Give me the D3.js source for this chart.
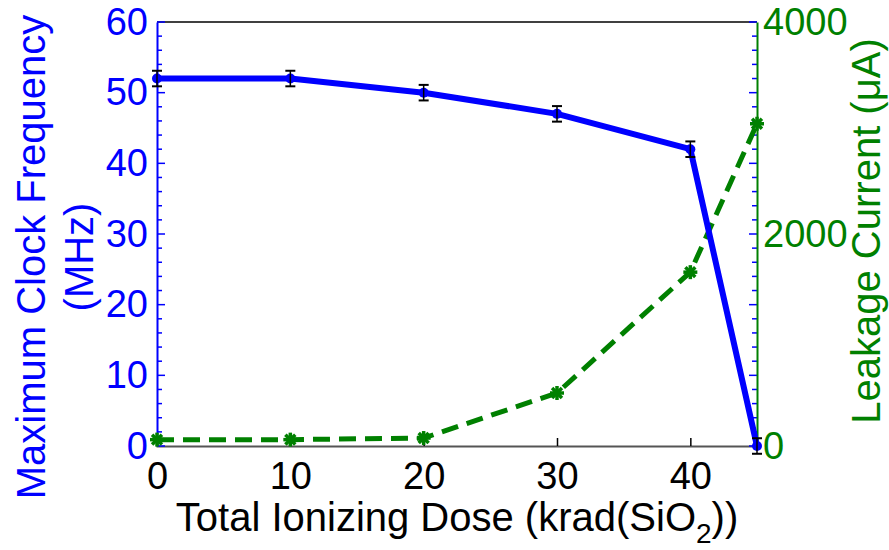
<!DOCTYPE html>
<html>
<head>
<meta charset="utf-8">
<script src="https://cdn.jsdelivr.net/npm/d3@7"></script>
<style>
  body { margin: 0; background: #fff; }
  text { font-family: "Liberation Sans", Arial, sans-serif; }
</style>
</head>
<body>
<svg id="svg" width="889" height="550"></svg>
<script>
// dose in krad(SiO2)
let dose = [0, 10, 20, 30, 40, 45];
// max clock frequency (MHz) and its error
let freq = [52, 52, 50, 47, 42, 0];
let freqErr = [1.1, 1.1, 1.1, 1.1, 1.1, 1.1];
// leakage current (uA)
let leakage = [60, 60, 75, 500, 1640, 3040];

let xTicks = [0, 10, 20, 30, 40];
let yLeftTicks = [0, 10, 20, 30, 40, 50, 60];
let yRightTicks = [0, 2000, 4000];

let blue = "#0000ff", green = "#008000";
let font = "Liberation Sans, Arial, sans-serif";

let svg = d3.select("svg");
let margin = {top: 22, right: 132, bottom: 104, left: 157};
let width = 889 - margin.left - margin.right;
let height = 550 - margin.top - margin.bottom;

let x = d3.scaleLinear().domain([0, 45]).range([0, width]);
let yL = d3.scaleLinear().domain([0, 60]).range([height, 0]);
let yR = d3.scaleLinear().domain([0, 4000]).range([height, 0]);

let g = svg.append("g").attr("transform", "translate(" + margin.left + "," + margin.top + ")");

// top box line
g.append("line").attr("x1", 0).attr("x2", width).attr("y1", 0).attr("y2", 0)
  .attr("stroke", "#000").attr("stroke-width", 1.5);

// bottom axis
let xAxis = g.append("g")
  .attr("transform", "translate(0," + height + ")")
  .call(d3.axisBottom(x).tickValues(xTicks).tickSize(-8).tickPadding(16).tickFormat(d3.format("d")));
xAxis.select(".domain").attr("stroke", "#555").attr("stroke-width", 2);
xAxis.selectAll(".tick line").attr("stroke", "#000").attr("stroke-width", 1.5);
xAxis.selectAll("text").attr("font-size", 38).attr("fill", "#000").attr("font-family", font);

// left axis with minor ticks
let minorL = d3.range(0, 61, 2);
let yAxisL = g.append("g")
  .call(d3.axisLeft(yL).tickValues(yLeftTicks).tickSize(0).tickPadding(9).tickFormat(d3.format("d")));
yAxisL.select(".domain").attr("stroke", blue).attr("stroke-width", 2);
yAxisL.selectAll("text").attr("font-size", 38).attr("fill", blue).attr("font-family", font);
g.selectAll(".minorL").data(minorL).enter().append("line")
  .attr("x1", 0).attr("x2", d => d % 10 == 0 ? 8 : 5)
  .attr("y1", d => yL(d)).attr("y2", d => yL(d))
  .attr("stroke", blue).attr("stroke-width", 1.5);
g.selectAll(".minorLR").data(minorL).enter().append("line")
  .attr("x1", width).attr("x2", d => width - (d % 10 == 0 ? 8 : 5))
  .attr("y1", d => yL(d)).attr("y2", d => yL(d))
  .attr("stroke", blue).attr("stroke-width", 1.5);

// right axis
let yAxisR = g.append("g")
  .attr("transform", "translate(" + width + ",0)")
  .call(d3.axisRight(yR).tickValues(yRightTicks).tickSize(0).tickPadding(6).tickFormat(d3.format("d")));
yAxisR.select(".domain").attr("stroke", green).attr("stroke-width", 2);
yAxisR.selectAll("text").attr("font-size", 38).attr("fill", green).attr("font-family", font);

let freqData = dose.map((d, i) => ({x: d, y: freq[i], e: freqErr[i]}));
let leakData = dose.map((d, i) => ({x: d, y: leakage[i]}));

// leakage line (dashed)
g.append("path")
  .datum(leakData)
  .attr("fill", "none")
  .attr("stroke", green)
  .attr("stroke-width", 5)
  .attr("stroke-dasharray", "17,9")
  .attr("d", d3.line().x(d => x(d.x)).y(d => yR(d.y)));

// asterisk markers
let star = g.selectAll(".star").data(leakData).enter().append("g")
  .attr("transform", d => "translate(" + x(d.x) + "," + yR(d.y) + ")");
[0, 45, 90, 135].forEach(a => {
  star.append("line")
    .attr("x1", -7).attr("x2", 7).attr("y1", 0).attr("y2", 0)
    .attr("transform", "rotate(" + a + ")")
    .attr("stroke", green).attr("stroke-width", 3.5);
});

// frequency line
g.append("path")
  .datum(freqData)
  .attr("fill", "none")
  .attr("stroke", blue)
  .attr("stroke-width", 6)
  .attr("stroke-linejoin", "round")
  .attr("d", d3.line().x(d => x(d.x)).y(d => yL(d.y)));

g.selectAll(".dot").data(freqData).enter().append("circle")
  .attr("cx", d => x(d.x)).attr("cy", d => yL(d.y)).attr("r", 5)
  .attr("fill", blue);

// error bars
let eb = g.selectAll(".err").data(freqData).enter().append("g");
eb.append("line")
  .attr("x1", d => x(d.x)).attr("x2", d => x(d.x))
  .attr("y1", d => yL(d.y - d.e)).attr("y2", d => yL(d.y + d.e))
  .attr("stroke", "#000").attr("stroke-width", 1.5);
eb.append("line")
  .attr("x1", d => x(d.x) - 5).attr("x2", d => x(d.x) + 5)
  .attr("y1", d => yL(d.y + d.e)).attr("y2", d => yL(d.y + d.e))
  .attr("stroke", "#000").attr("stroke-width", 2);
eb.append("line")
  .attr("x1", d => x(d.x) - 5).attr("x2", d => x(d.x) + 5)
  .attr("y1", d => yL(d.y - d.e)).attr("y2", d => yL(d.y - d.e))
  .attr("stroke", "#000").attr("stroke-width", 2);

// axis titles
let xt = svg.append("text")
  .attr("x", margin.left + width / 2).attr("y", 531)
  .attr("text-anchor", "middle").attr("font-size", 40).attr("fill", "#000");
xt.append("tspan").text("Total Ionizing Dose (krad(SiO");
xt.append("tspan").attr("dy", 12).attr("font-size", 28).text("2");
xt.append("tspan").attr("dy", -12).text("))");

let ylt = svg.append("text")
  .attr("transform", "translate(0,257) rotate(-90)")
  .attr("text-anchor", "middle").attr("font-size", 40).attr("fill", blue);
ylt.append("tspan").attr("x", 0).attr("y", 45).text("Maximum Clock Frequency");
ylt.append("tspan").attr("x", 0).attr("y", 93).text("(MHz)");

svg.append("text")
  .attr("transform", "translate(880,231) rotate(-90)")
  .attr("text-anchor", "middle").attr("font-size", 40).attr("fill", green)
  .text("Leakage Current (\u03bcA)");
</script>
</body>
</html>
